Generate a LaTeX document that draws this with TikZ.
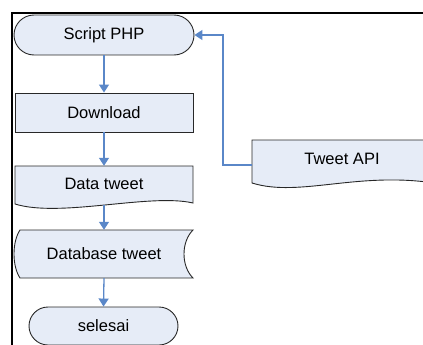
\documentclass[tikz,border=0pt]{standalone}
\usepackage{fontspec}
\setmainfont{Liberation Sans}
\usetikzlibrary{arrows.meta,shapes.misc}
\definecolor{boxfill}{RGB}{230,236,247}
\definecolor{conncol}{RGB}{90,135,200}
\definecolor{edgecol}{RGB}{40,40,40}
\tikzset{
  shapeline/.style={draw=edgecol, line width=0.9pt, fill=boxfill},
  terminal/.style={shapeline, rounded rectangle, inner sep=0pt},
  proc/.style={shapeline, rectangle, inner sep=0pt},
  lbl/.style={font=\fontsize{16.5}{18}\selectfont, inner sep=0pt},
  conn/.style={draw=conncol, line width=1.3pt, -{Triangle[width=10pt,length=8pt]}},
  frame/.style={line width=2.5pt, black}
}
\begin{document}
\begin{tikzpicture}[x=1pt,y=-1pt]
\useasboundingbox (0,0) rectangle (423,345);
\clip (0,0) rectangle (423,345);
% frame
\draw[frame] (11,13) -- (423,13);
\draw[frame] (12,13) -- (12,345);
% Script PHP
\node[terminal, lbl, minimum width=180pt, minimum height=40pt] (php) at (104,35) {Script PHP};
% Download
\node[proc, lbl, minimum width=178pt, minimum height=39pt] (dl) at (104,112.5) {Download};
% Data tweet (document)
\draw[shapeline] (15,166) -- (193,166) -- (193,203)
  .. controls (150,193) and (60,218) .. (15,204) -- cycle;
\node[lbl, minimum width=178pt, minimum height=39pt] (dt) at (104,185.5) {\raisebox{3.5pt}{Data tweet}};
% Database tweet (stored data)
\draw[shapeline] (20,230) -- (193,230) .. controls (181,242) and (181,266) .. (193,278)
  -- (20,278) .. controls (12,266) and (12,242) .. (20,230) -- cycle;
\node[lbl, minimum width=170pt, minimum height=48pt] (db) at (104,254) {Database tweet};
% selesai
\node[terminal, lbl, minimum width=149pt, minimum height=38pt] (end) at (103.5,326) {selesai};
% Tweet API (document)
\draw[shapeline] (252,140) -- (440,140) -- (440,184)
  .. controls (360,170) and (300,198) .. (252,183) -- cycle;
\node[lbl] (api) at (342,159) {Tweet API};
\coordinate (apiin) at (252,165);
% connectors
\draw[conn] (php.south) -- (dl.north);
\draw[conn] (dl.south) -- (dt.north);
\draw[conn] (dt.south) -- (db.north);
\draw[conn] (db.south) -- (end.north);
\draw[conn] (apiin) -- ++(-29,0) |- (php.east);
\end{tikzpicture}
\end{document}
